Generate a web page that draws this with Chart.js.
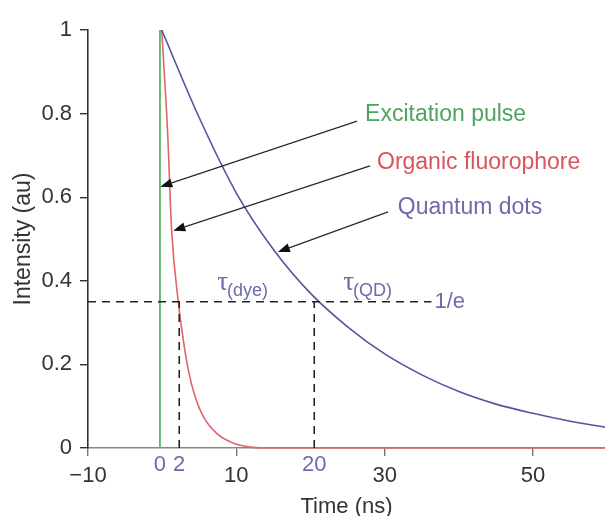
<!DOCTYPE html>
<html>
<head>
<meta charset="utf-8">
<script src="https://cdn.jsdelivr.net/npm/chart.js@4/dist/chart.umd.min.js"></script>
<style>
  html, body { margin: 0; padding: 0; background: #ffffff; }
  #wrap { width: 605px; height: 516px; position: relative; }
</style>
</head>
<body>
<div id="wrap"><canvas id="c"></canvas></div>
<script>
// ---- Data ----
const qdTime       = [-0.06, 5, 10, 15, 20, 25, 30, 35, 40, 45, 50, 55, 59.7];
const qdIntensity  = [1.00, 0.79, 0.61, 0.475, 0.37, 0.29, 0.225, 0.175, 0.135, 0.105, 0.083, 0.064, 0.05];

const dyeTime      = [-0.06, 0.72, 1.28, 2.17, 2.85, 3.52, 4.43, 5.55, 7.35, 9.55, 11.84, 13.9, 59.7];
const dyeIntensity = [1.00, 0.76, 0.52, 0.35, 0.258, 0.187, 0.123, 0.075, 0.035, 0.012, 0.002, 0, 0];

const pulseTime      = [-0.3, -0.3];
const pulseIntensity = [0, 1];

const invELevel   = 0.35;          // 1/e marker level
const invELineX   = [-10, 36.3];   // extent of the horizontal dashed line
const tauDyeTime  = 2.3;
const tauQDTime   = 20.5;

const xTicks = [-10, 10, 30, 50];
const yTicks = [0, 0.2, 0.4, 0.6, 0.8, 1];
const markerTickLabels = ["0", "2", "20"];
const markerTickTimes  = [-0.3, 2.3, 20.5];

const seriesLabels = ["Excitation pulse", "Organic fluorophore", "Quantum dots"];
const labelAnchors = [[27.35, 0.797], [28.96, 0.682], [31.76, 0.574]];
const arrowFrom    = [[26.27, 0.782], [28.02, 0.675], [30.45, 0.565]];
const arrowTo      = [[-0.25, 0.625], [1.5, 0.52], [15.6, 0.469]];

// ---- styles ----
const GREEN_LINE = '#5cb36a', GREEN_TEXT = '#4ea45c';
const RED_LINE = '#e0646c', RED_TEXT = '#d9545e';
const BLUE_LINE = '#55559c', BLUE_TEXT = '#6c6cac';
const FONT = '"Liberation Sans", Arial, sans-serif';

const pts = (xs, ys) => xs.map((v, i) => ({ x: v, y: ys[i] }));

const annot = {
  id: 'annot',
  afterDatasetsDraw(chart) {
    const { ctx, scales: { x, y } } = chart;
    ctx.save();
    // arrows
    for (let i = 0; i < arrowFrom.length; i++) {
      const x1 = x.getPixelForValue(arrowFrom[i][0]), y1 = y.getPixelForValue(arrowFrom[i][1]);
      const x2 = x.getPixelForValue(arrowTo[i][0]),   y2 = y.getPixelForValue(arrowTo[i][1]);
      const ang = Math.atan2(y2 - y1, x2 - x1);
      const L = 12, W = 4.5;
      const bx = x2 - L * Math.cos(ang), by = y2 - L * Math.sin(ang);
      ctx.strokeStyle = '#2a2a2a';
      ctx.lineWidth = 1.3;
      ctx.beginPath(); ctx.moveTo(x1, y1); ctx.lineTo(bx, by); ctx.stroke();
      ctx.fillStyle = '#111';
      ctx.beginPath();
      ctx.moveTo(x2, y2);
      ctx.lineTo(bx + W * Math.sin(ang), by - W * Math.cos(ang));
      ctx.lineTo(bx - W * Math.sin(ang), by + W * Math.cos(ang));
      ctx.closePath(); ctx.fill();
    }
    // series labels
    const colors = [GREEN_TEXT, RED_TEXT, BLUE_TEXT];
    ctx.font = '23px ' + FONT;
    ctx.textAlign = 'left';
    ctx.textBaseline = 'middle';
    for (let i = 0; i < seriesLabels.length; i++) {
      ctx.fillStyle = colors[i];
      ctx.fillText(seriesLabels[i], x.getPixelForValue(labelAnchors[i][0]), y.getPixelForValue(labelAnchors[i][1]));
    }
    // 1/e label
    ctx.fillStyle = BLUE_TEXT;
    ctx.font = '22px ' + FONT;
    ctx.fillText('1/e', x.getPixelForValue(invELineX[1]) + 3, y.getPixelForValue(invELevel));
    // tau labels
    const tauY = y.getPixelForValue(invELevel) - 12;
    const drawTau = (t, sub, dx) => {
      const px = x.getPixelForValue(t) + dx;
      ctx.textBaseline = 'alphabetic';
      ctx.font = '27px "Liberation Serif", "DejaVu Serif", serif';
      ctx.fillText('\u03C4', px, tauY);
      const w = ctx.measureText('\u03C4').width;
      ctx.font = '18px ' + FONT;
      ctx.fillText(sub, px + w - 1, tauY + 6);
    };
    drawTau(tauDyeTime, '(dye)', 38);
    drawTau(tauQDTime, '(QD)', 29);
    // marker tick labels under the axis
    ctx.font = '22px ' + FONT;
    ctx.textAlign = 'center';
    ctx.textBaseline = 'middle';
    ctx.fillStyle = BLUE_TEXT;
    const y0 = y.getPixelForValue(0);
    for (let i = 0; i < markerTickLabels.length; i++) {
      ctx.fillText(markerTickLabels[i], x.getPixelForValue(markerTickTimes[i]), y0 + 17);
    }
    ctx.restore();
  }
};

const dashStyle = { borderColor: '#222', borderWidth: 1.6, borderDash: [8, 6], pointRadius: 0, fill: false, tension: 0 };

new Chart(document.getElementById('c'), {
  type: 'line',
  data: {
    datasets: [
      Object.assign({ label: '1/e', data: pts(invELineX, [invELevel, invELevel]) }, dashStyle),
      Object.assign({ label: 'tau dye', data: pts([tauDyeTime, tauDyeTime], [0, invELevel]) }, dashStyle),
      Object.assign({ label: 'tau QD', data: pts([tauQDTime, tauQDTime], [0, invELevel]) }, dashStyle),
      { label: 'Excitation pulse', data: pts(pulseTime, pulseIntensity), borderColor: GREEN_LINE, borderWidth: 1.8, pointRadius: 0, tension: 0 },
      { label: 'Quantum dots', data: pts(qdTime, qdIntensity), borderColor: BLUE_LINE, borderWidth: 1.6, pointRadius: 0, cubicInterpolationMode: 'monotone' },
      { label: 'Organic fluorophore', data: pts(dyeTime, dyeIntensity), borderColor: RED_LINE, borderWidth: 1.6, pointRadius: 0, cubicInterpolationMode: 'monotone', clip: 4 }
    ]
  },
  options: {
    responsive: true,
    maintainAspectRatio: false,
    animation: false,
    layout: { padding: { top: 30, right: 0, bottom: 0, left: 0 } },
    plugins: { legend: { display: false }, tooltip: { enabled: false } },
    scales: {
      x: {
        type: 'linear',
        min: -10, max: 59.7,
        afterBuildTicks: (s) => { s.ticks = xTicks.map(v => ({ value: v })); },
        afterFit: (s) => { s.height = 68; },
        grid: { drawOnChartArea: false, drawTicks: true, tickLength: 8, color: '#777', lineWidth: 1.4 },
        border: { color: '#888', width: 1.6 },
        ticks: { color: '#333', font: { family: FONT, size: 22 }, padding: 7, maxRotation: 0, autoSkip: false,
                 callback: (v) => (v < 0 ? '\u2212' + Math.abs(v) : String(v)) },
        title: { display: true, text: 'Time (ns)', color: '#333', font: { family: FONT, size: 22, lineHeight: 0.8 }, padding: { top: 0, bottom: 0 } }
      },
      y: {
        min: 0, max: 1,
        afterBuildTicks: (s) => { s.ticks = yTicks.map(v => ({ value: v })); },
        afterFit: (s) => { s.width = 88; },
        grid: { drawOnChartArea: false, drawTicks: true, tickLength: 8, color: '#333', lineWidth: 1.4 },
        border: { color: '#333', width: 1.6 },
        ticks: { color: '#333', font: { family: FONT, size: 22 }, padding: 8, autoSkip: false,
                 callback: (v) => String(Math.round(v * 10) / 10) },
        title: { display: true, text: 'Intensity (au)', color: '#333', font: { family: FONT, size: 23 }, padding: { top: 10, bottom: 0 } }
      }
    }
  },
  plugins: [annot]
});
</script>
</body>
</html>
